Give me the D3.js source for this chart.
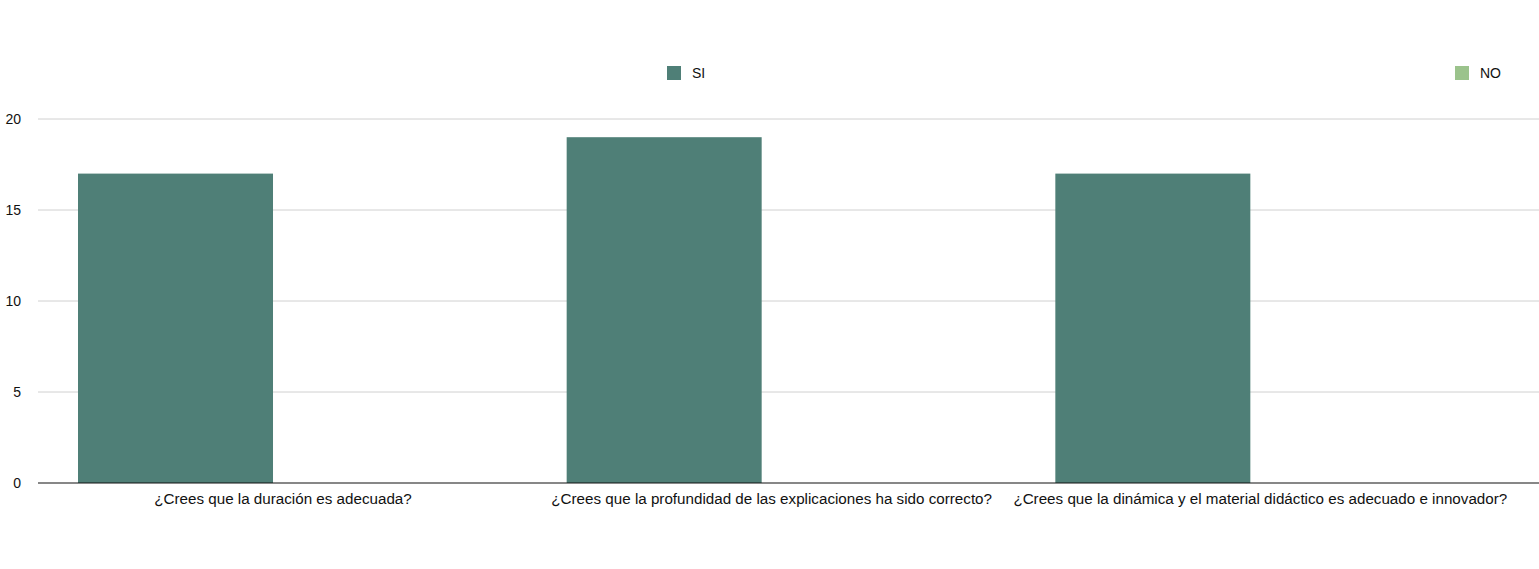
<!DOCTYPE html>
<html>
<head>
<meta charset="utf-8">
<script src="https://cdn.jsdelivr.net/npm/d3@7"></script>
<style>
  body { margin: 0; background: #fff; }
  text { font-family: "Liberation Sans", Arial, Helvetica, sans-serif; fill: #111; }
</style>
</head>
<body>
<svg width="1539" height="569"></svg>
<script>
var categories = [
  "¿Crees que la duración es adecuada?",
  "¿Crees que la profundidad de las explicaciones ha sido correcto?",
  "¿Crees que la dinámica y el material didáctico es adecuado e innovador?"
];
var seriesNames = ["SI", "NO"];
var siValues = [17, 19, 17];
var noValues = [0, 0, 0];
var yTicks = [0, 5, 10, 15, 20];

var colors = { "SI": "#4f7f77", "NO": "#9bc38c" };

var svg = d3.select("svg"),
    margin = {top: 119, right: 0, bottom: 86, left: 38},
    width = +svg.attr("width") - margin.left - margin.right,
    height = +svg.attr("height") - margin.top - margin.bottom;

var rows = categories.map(function(c, i) {
  return { cat: c, SI: siValues[i], NO: noValues[i] };
});

var x0 = d3.scaleBand().domain(categories).range([0, 1466]).padding(0);
var x1 = d3.scaleBand().domain(seriesNames).range([40, 450]).paddingInner(0.093);
var y = d3.scaleLinear().domain([0, 20]).range([height, 0]);

var g = svg.append("g")
    .attr("transform", "translate(" + margin.left + "," + margin.top + ")");

// gridlines
g.selectAll(".grid")
  .data(yTicks.filter(function(d) { return d > 0; }))
  .enter().append("line")
    .attr("x1", 0).attr("x2", width)
    .attr("y1", function(d) { return y(d); })
    .attr("y2", function(d) { return y(d); })
    .attr("stroke", "#d0d0d0").attr("stroke-width", 1);

// y labels
g.selectAll(".ylab")
  .data(yTicks)
  .enter().append("text")
    .attr("x", -17)
    .attr("y", function(d) { return y(d); })
    .attr("dy", "0.35em")
    .attr("text-anchor", "end")
    .style("font-size", "14px")
    .text(function(d) { return d; });

// bars
var groups = g.selectAll(".grp")
  .data(rows)
  .enter().append("g")
    .attr("transform", function(d) { return "translate(" + x0(d.cat) + ",0)"; });

groups.selectAll("rect")
  .data(function(d) { return seriesNames.map(function(k) { return {key: k, value: d[k]}; }); })
  .enter().append("rect")
    .attr("x", function(d) { return x1(d.key); })
    .attr("width", x1.bandwidth())
    .attr("y", function(d) { return y(d.value); })
    .attr("height", function(d) { return height - y(d.value); })
    .attr("fill", function(d) { return colors[d.key]; });

// baseline
g.append("line")
  .attr("x1", 0).attr("x2", width)
  .attr("y1", y(0)).attr("y2", y(0))
  .attr("stroke", "#111").attr("stroke-width", 1.2);

// category labels
g.selectAll(".xlab")
  .data(categories)
  .enter().append("text")
    .attr("x", function(d) { return x0(d) + (x1.range()[0] + x1.range()[1]) / 2; })
    .attr("y", height + 21)
    .attr("text-anchor", "middle")
    .style("font-size", "15.2px")
    .text(function(d) { return d; });

// legend
var legendX = { "SI": 667, "NO": 1455 };
var legend = svg.selectAll(".legend")
  .data(seriesNames)
  .enter().append("g")
    .attr("transform", function(d) { return "translate(" + legendX[d] + ",66)"; });
legend.append("rect")
  .attr("width", 14).attr("height", 14)
  .attr("fill", function(d) { return colors[d]; });
legend.append("text")
  .attr("x", 25).attr("y", 7).attr("dy", "0.35em")
  .style("font-size", "14px")
  .text(function(d) { return d; });
</script>
</body>
</html>
